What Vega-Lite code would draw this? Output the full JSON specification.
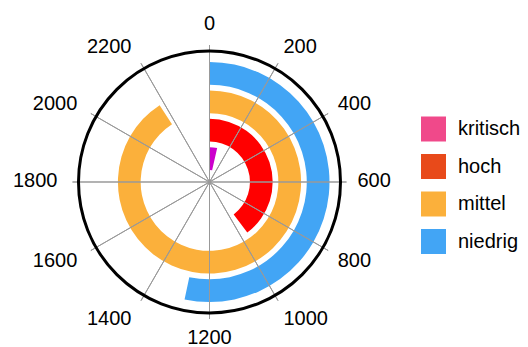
{
  "$schema": "https://vega.github.io/schema/vega-lite/v6.json",
  "width": 419,
  "height": 330,
  "autosize": "none",
  "padding": {"left": 0, "top": 17, "right": 109, "bottom": 0},
  "background": "white",
  "config": {"view": {"stroke": null}, "font": "Liberation Sans"},
  "datasets": {
    "stufen": [
      {"stufe": "kritisch", "wert": 85},
      {"stufe": "hoch", "wert": 955},
      {"stufe": "mittel", "wert": 2180},
      {"stufe": "niedrig", "wert": 1280}
    ],
    "ticks": [{"v": 0}, {"v": 200}, {"v": 400}, {"v": 600}, {"v": 800}, {"v": 1000}, {"v": 1200}, {"v": 1400}, {"v": 1600}, {"v": 1800}, {"v": 2000}, {"v": 2200}]
  },
  "layer": [
    {
      "data": {"name": "stufen"},
      "mark": {"type": "arc", "opacity": 0},
      "encoding": {
        "theta": {"field": "wert", "type": "quantitative", "stack": null, "scale": {"domain": [0, 2400], "zero": true, "nice": false}},
        "theta2": {"datum": 0},
        "radius": {"field": "stufe", "type": "nominal", "scale": {"type": "band", "domain": ["kritisch", "hoch", "mittel", "niedrig"], "range": [12, 120], "paddingInner": 0.2, "paddingOuter": 0}},
        "color": {
          "field": "stufe", "type": "nominal",
          "scale": {"domain": ["kritisch", "hoch", "mittel", "niedrig"], "range": ["#f0498a", "#e84a1a", "#fbb03b", "#42a5f5"]},
          "legend": {
            "orient": "none", "legendX": 421, "legendY": 99.5, "title": null,
            "symbolType": "square", "symbolSize": 625, "symbolStrokeWidth": 0, "symbolOpacity": 1,
            "labelFontSize": 20, "labelFont": "Liberation Sans", "labelColor": "#000",
            "rowPadding": 12.5, "labelOffset": 12
          }
        }
      }
    },
    {
      "data": {"name": "stufen"},
      "mark": {"type": "arc"},
      "encoding": {
        "theta": {"field": "wert", "type": "quantitative", "stack": null, "scale": {"domain": [0, 2400], "zero": true, "nice": false}},
        "theta2": {"datum": 0},
        "radius": {"field": "stufe", "type": "nominal", "scale": {"type": "band", "domain": ["kritisch", "hoch", "mittel", "niedrig"], "range": [12, 120], "paddingInner": 0.2, "paddingOuter": 0}},
        "fill": {
          "field": "stufe", "type": "nominal",
          "scale": {"domain": ["kritisch", "hoch", "mittel", "niedrig"], "range": ["#cc00cc", "#ff0000", "#fbb03b", "#42a5f5"]},
          "legend": null
        }
      }
    },
    {
      "data": {"name": "ticks"},
      "mark": {"type": "arc", "filled": false, "color": "#999999", "strokeWidth": 1, "radius": 137, "radius2": 0},
      "encoding": {
        "theta": {"field": "v", "type": "quantitative", "stack": null, "scale": {"domain": [0, 2400]}},
        "theta2": {"field": "v"}
      }
    },
    {
      "data": {"values": [{"k": 1}]},
      "mark": {"type": "arc", "filled": false, "color": "#000000", "strokeWidth": 3, "radius": 131, "theta": 0, "theta2": 6.2832},
      "encoding": {}
    },
    {
      "data": {"name": "ticks"},
      "mark": {
        "type": "text", "fontSize": 20, "color": "#000000", "radius": 148, "baseline": "alphabetic",
        "align": {"expr": "abs(sin(datum.v*PI/1200)) < 0.1 ? 'center' : (sin(datum.v*PI/1200) > 0 ? 'left' : 'right')"},
        "dy": {"expr": "(cos(datum.v*PI/1200) > 0.01 ? -4*cos(datum.v*PI/1200) : -14*cos(datum.v*PI/1200)) + 5*abs(sin(datum.v*PI/1200))"},
        "dx": {"expr": "sin(datum.v*PI/1200) < -0.1 ? -4 : 0"}
      },
      "encoding": {
        "theta": {"field": "v", "type": "quantitative", "stack": null, "scale": {"domain": [0, 2400]}},
        "text": {"field": "v", "type": "quantitative", "format": "d"}
      }
    }
  ]
}
